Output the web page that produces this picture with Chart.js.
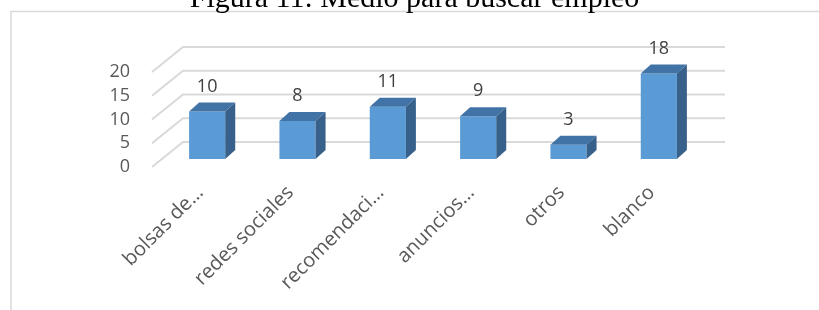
<!DOCTYPE html>
<html lang="es">
<head>
<meta charset="utf-8">
<title>Medio para buscar empleo</title>
<script src="https://cdn.jsdelivr.net/npm/chart.js@4.4.1/dist/chart.umd.min.js"></script>
<style>
  html, body { margin: 0; padding: 0; background: #fff; overflow: hidden; }
  #wrap { position: relative; width: 819px; height: 310px; }
  #titulo {
    position: absolute; left: 5px; top: -18px; width: 819px;
    text-align: center; white-space: nowrap; z-index: 2;
    font: 30px/30px "Liberation Serif", "Times New Roman", serif; color: #000;
  }
  canvas { position: absolute; left: 0; top: 0; }
</style>
</head>
<body>
<div id="wrap">
  <div id="titulo">Figura 11: Medio para buscar empleo</div>
  <canvas id="grafico" width="819" height="310"></canvas>
</div>
<script>
// ========== DATOS ==========
const categorias = ['bolsas de…', 'redes sociales', 'recomendaci…', 'anuncios…', 'otros', 'blanco'];
const valores = [10, 8, 11, 9, 3, 18];
const ticksY = [0, 5, 10, 15, 20];

// ========== ESTILO ==========
const AZUL_FRENTE = '#5b9bd5';
const AZUL_TAPA = '#4273a6';
const AZUL_LADO = '#37618b';
const GRIS_REJILLA = '#d9d9d9';
const FUENTE = '"Open Sans", Lato, sans-serif';

// desplazamientos de la falsa perspectiva
const PARED = { dx: 31, dy: -25 };   // pared del fondo
const HUECO = { dx: 10, dy: -8 };    // frente de la barra respecto al plano frontal
const FONDO = { dx: 10, dy: -9 };    // profundidad de cada barra

// ========== PLUGIN 3D ==========
const efecto3D = {
  id: 'efecto3D',
  beforeDraw(chart) {
    const ctx = chart.ctx;
    // marco del grafico
    ctx.save();
    ctx.strokeStyle = GRIS_REJILLA;
    ctx.lineWidth = 1.5;
    ctx.beginPath();
    ctx.moveTo(11, chart.height);
    ctx.lineTo(11, 11.5);
    ctx.lineTo(chart.width, 11.5);
    ctx.stroke();
    ctx.restore();
  },
  beforeDatasetsDraw(chart) {
    const { ctx, chartArea, scales: { y } } = chart;
    ctx.save();
    ctx.strokeStyle = GRIS_REJILLA;
    ctx.lineWidth = 2;
    ticksY.forEach(v => {
      const py = y.getPixelForValue(v);
      ctx.beginPath();
      ctx.moveTo(chartArea.left, py);
      ctx.lineTo(chartArea.left + PARED.dx, py + PARED.dy);
      ctx.lineTo(chartArea.right + PARED.dx, py + PARED.dy);
      ctx.stroke();
    });
    ctx.restore();
    ctx.save();
    ctx.translate(HUECO.dx, HUECO.dy);
  },
  afterDatasetsDraw(chart) {
    const ctx = chart.ctx;
    chart.getDatasetMeta(0).data.forEach((bar, i) => {
      const { x, y, width, base } = bar.getProps(['x', 'y', 'width', 'base'], true);
      const l = x - width / 2;
      const r = x + width / 2;
      // tapa
      ctx.fillStyle = AZUL_TAPA;
      ctx.beginPath();
      ctx.moveTo(l, y);
      ctx.lineTo(l + FONDO.dx, y + FONDO.dy);
      ctx.lineTo(r + FONDO.dx, y + FONDO.dy);
      ctx.lineTo(r, y);
      ctx.closePath();
      ctx.fill();
      // lado
      ctx.fillStyle = AZUL_LADO;
      ctx.beginPath();
      ctx.moveTo(r, y);
      ctx.lineTo(r + FONDO.dx, y + FONDO.dy);
      ctx.lineTo(r + FONDO.dx, base + FONDO.dy);
      ctx.lineTo(r, base);
      ctx.closePath();
      ctx.fill();
      // etiqueta de valor
      ctx.fillStyle = '#404040';
      ctx.font = '18px ' + FUENTE;
      ctx.textAlign = 'center';
      ctx.textBaseline = 'middle';
      ctx.fillText(String(valores[i]), x, y - 25);
    });
    ctx.restore();
  }
};

// ========== GRAFICO ==========
new Chart(document.getElementById('grafico'), {
  type: 'bar',
  data: {
    labels: categorias,
    datasets: [{
      data: valores,
      backgroundColor: AZUL_FRENTE,
      borderWidth: 0,
      categoryPercentage: 1,
      barPercentage: 0.4,
      clip: false
    }]
  },
  options: {
    responsive: false,
    animation: false,
    events: [],
    layout: { padding: { left: 0, right: 125, top: 72, bottom: 0 } },
    plugins: {
      legend: { display: false },
      tooltip: { enabled: false },
      title: { display: false }
    },
    scales: {
      y: {
        min: 0,
        max: 20,
        afterFit(scale) { scale.width = 152; },
        afterBuildTicks(scale) { scale.ticks = ticksY.map(v => ({ value: v })); },
        grid: { display: false, drawTicks: false },
        border: { display: false },
        ticks: { autoSkip: false, color: '#595959', padding: 22, font: { family: FUENTE, size: 18 } }
      },
      x: {
        afterFit(scale) { scale.height = 143; },
        grid: { display: false, drawTicks: false },
        border: { display: false },
        ticks: {
          autoSkip: false,
          minRotation: 45,
          maxRotation: 45,
          padding: 14,
          labelOffset: 3,
          color: '#595959',
          font: { family: FUENTE, size: 20 }
        }
      }
    }
  },
  plugins: [efecto3D]
});
</script>
</body>
</html>
